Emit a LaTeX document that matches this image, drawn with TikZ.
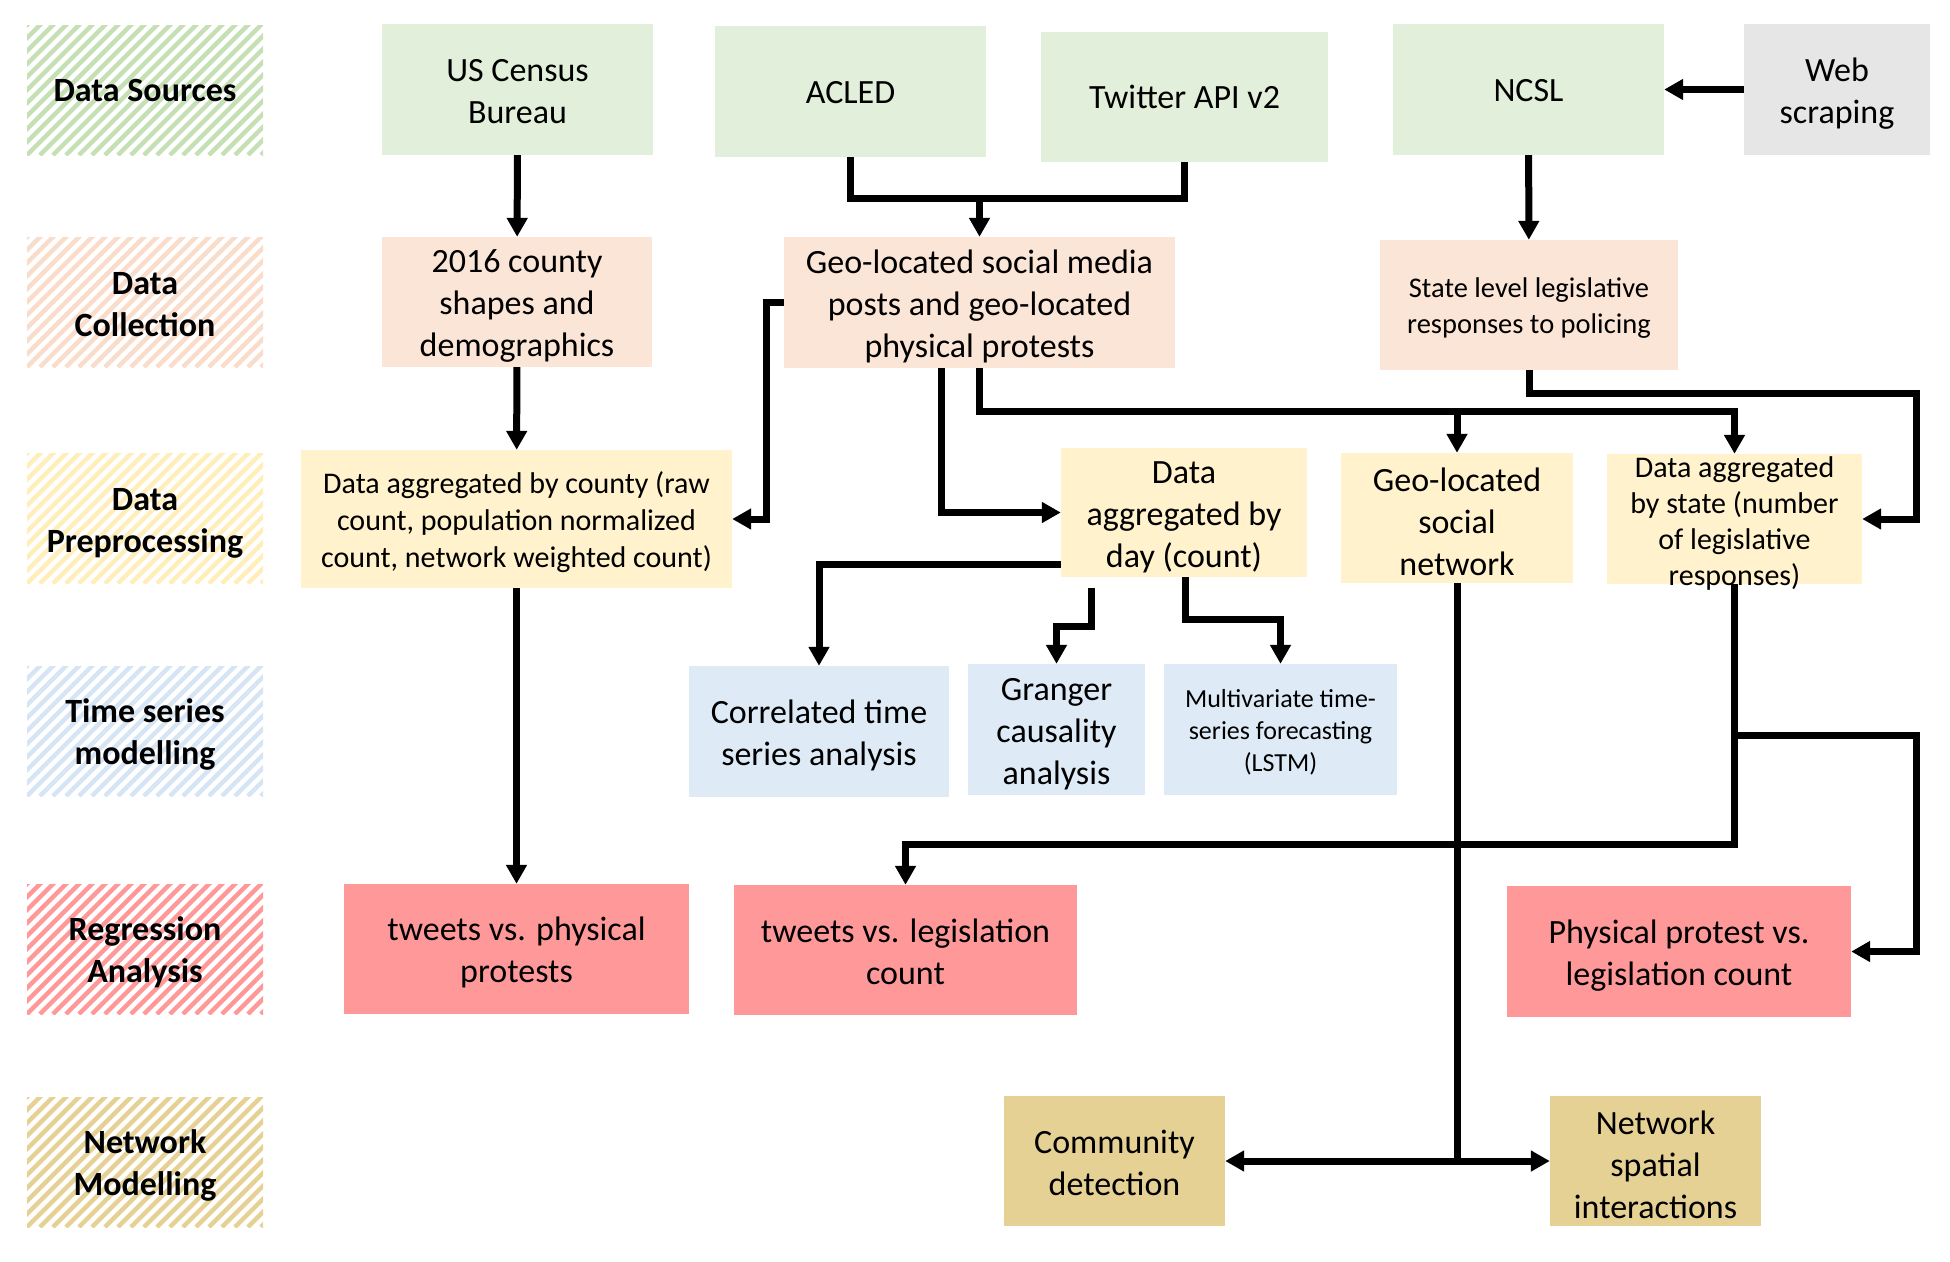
\documentclass[tikz,border=0pt]{standalone}
\usepackage{fontspec}
\setmainfont{Carlito}
\usetikzlibrary{arrows.meta,calc}
\definecolor{srcG}{HTML}{E2EFDA}
\definecolor{colP}{HTML}{FBE5D6}
\definecolor{preY}{HTML}{FFF2CC}
\definecolor{tsB}{HTML}{DEEBF7}
\definecolor{regR}{HTML}{FF9999}
\definecolor{netT}{HTML}{E6D194}
\definecolor{webG}{HTML}{E7E6E6}
\definecolor{stG}{HTML}{C5E0B4}
\definecolor{stP}{HTML}{F9DCCA}
\definecolor{stY}{HTML}{FFEDBA}
\definecolor{stB}{HTML}{D6E5F5}
\definecolor{stR}{HTML}{FF9999}
\definecolor{stT}{HTML}{E6D194}
\newcommand{\tstrut}{\rule{0pt}{0.91em}}
\newcommand{\mstrut}{\rule{0pt}{0.8em}}
\newcommand{\sstrut}{\rule{0pt}{0.7em}}
\newcommand{\stripefill}[2]{%
  \begin{scope}
    \clip (27,#1-65) rectangle (263,#1+65);
    \foreach \ii in {-12,...,20} {
      \draw[#2, line width=4.3pt] (27+\ii*13,#1+65) -- ++(150,-150);
    }
  \end{scope}}
\begin{document}
\begin{tikzpicture}[x=1pt,y=-1pt,
  box/.style={rectangle, inner sep=0pt, align=center, font=\fontsize{34}{42}\selectfont},
  lab/.style={rectangle, inner sep=0pt, minimum width=236pt, minimum height=130pt, align=center, font=\fontsize{34}{42}\selectfont\bfseries},
  arr/.style={line width=7pt, -{Triangle[width=20pt,length=19pt]}},
  conn/.style={line width=7pt}]
\useasboundingbox (0,0) rectangle (1950,1261);

% row labels
\stripefill{90}{stG}
\stripefill{302}{stP}
\stripefill{518.5}{stY}
\stripefill{731}{stB}
\stripefill{949}{stR}
\stripefill{1162}{stT}
\node[lab] (l1) at (145,90) {\sstrut Data Sources};
\node[lab] (l2) at (145,302) {\mstrut Data\\Collection};
\node[lab] (l3) at (145,518.5) {\tstrut Data\\Preprocessing};
\node[lab] (l4) at (145,731) {\tstrut Time series\\modelling};
\node[lab] (l5) at (145,949) {\tstrut Regression\\Analysis};
\node[lab] (l6) at (145,1162) {\tstrut Network\\Modelling};

% data sources
\node[box, fill=srcG, minimum width=271pt, minimum height=131pt] (census) at (517.5,89.5) {\mstrut US Census\\Bureau};
\node[box, fill=srcG, minimum width=271pt, minimum height=131pt] (acled) at (850.5,91.5) {\sstrut ACLED};
\node[box, fill=srcG, minimum width=287pt, minimum height=130pt] (twitter) at (1184.5,97) {\sstrut Twitter API v2};
\node[box, fill=srcG, minimum width=271pt, minimum height=131pt] (ncsl) at (1528.5,89.5) {\sstrut NCSL};
\node[box, fill=webG, minimum width=186pt, minimum height=131pt] (web) at (1837,89.5) {\tstrut Web\\scraping};

% data collection
\node[box, fill=colP, minimum width=270pt, minimum height=130pt] (county2016) at (517,302) {\tstrut 2016 county\\shapes and\\demographics};
\node[box, fill=colP, minimum width=391pt, minimum height=131pt] (geo) at (979.5,302.5) {\tstrut Geo-located social media\\posts and geo-located\\physical protests};
\node[box, fill=colP, minimum width=298pt, minimum height=130pt, font=\fontsize{28.5}{35.5}\selectfont] (state) at (1529,305) {\tstrut State level legislative\\responses to policing};

% preprocessing
\node[box, fill=preY, minimum width=431pt, minimum height=138pt, font=\fontsize{30}{37}\selectfont] (countyagg) at (516.5,519) {\tstrut Data aggregated by county (raw\\count, population normalized\\count, network weighted count)};
\node[box, fill=preY, minimum width=246pt, minimum height=129pt] (dayagg) at (1184,512.5) {\tstrut Data\\aggregated by\\day (count)};
\node[box, fill=preY, minimum width=232pt, minimum height=130pt] (geonet) at (1457,518) {\tstrut Geo-located\\social\\network};
\node[box, fill=preY, minimum width=255pt, minimum height=130pt] (stateagg) at (1734.5,519) {};
\node[box, font=\fontsize{30}{36}\selectfont] (stateaggtxt) at (1734.5,523) {Data aggregated\\by state (number\\of legislative\\responses)};

% time series
\node[box, fill=tsB, minimum width=260pt, minimum height=131pt] (corr) at (819,731.5) {\tstrut Correlated time\\series analysis};
\node[box, fill=tsB, minimum width=177pt, minimum height=131pt] (granger) at (1056.5,729.5) {\tstrut Granger\\causality\\analysis};
\node[box, fill=tsB, minimum width=233pt, minimum height=131pt, font=\fontsize{26}{31.7}\selectfont] (multi) at (1280.5,729.5) {\tstrut Multivariate time-\\series forecasting\\(LSTM)};

% regression
\node[box, fill=regR, minimum width=345pt, minimum height=130pt] (tphys) at (516.5,949) {\tstrut tweets vs. physical\\protests};
\node[box, fill=regR, minimum width=343pt, minimum height=130pt] (tleg) at (905.5,950) {\mstrut tweets vs. legislation\\count};
\node[box, fill=regR, minimum width=344pt, minimum height=131pt] (pleg) at (1679,951.5) {\tstrut Physical protest vs.\\legislation count};

% network
\node[box, fill=netT, minimum width=221pt, minimum height=130pt] (comm) at (1114.5,1161) {\mstrut Community\\detection};
\node[box, fill=netT, minimum width=211pt, minimum height=130pt] (netsp) at (1655.5,1161) {\tstrut Network\\spatial\\interactions};

% connectors
\coordinate (j1) at (979.5,198);
\coordinate (h1) at (1734.5,411);
\coordinate (r1) at (1916,393);
\coordinate (r2) at (1916,735);
\coordinate (j3) at (1457,1161);

\draw[arr] (census) -- (county2016);
\draw[conn] (acled.south) |- (j1) -| (twitter.south);
\draw[arr] (j1) -- (geo.north);
\draw[arr] (web.west) -- (ncsl.east);
\draw[arr] (ncsl) -- (state);
\draw[arr] (county2016) -- (countyagg);
\draw[arr] (geo.west) -- ++(-17,0) |- (countyagg.east);
\draw[arr] ($(geo.south)+(-38.5,0)$) |- (dayagg.west);
\draw[arr] (geo.south) |- (h1) -- (stateagg.north);
\draw[arr] (geonet.north |- h1) -- (geonet.north);
\draw[arr] (state.south) |- (r1) |- (stateagg.east);
\draw[arr] (countyagg) -- (tphys);
\draw[arr] ($(dayagg.west)+(0,51.5)$) -| (corr.north);
\draw[arr] ($(dayagg.south)+(-93,11)$) |- ($(granger.north)+(0,-37)$) -- (granger.north);
\draw[arr] ($(dayagg.south)+(1,0)$) |- ($(multi.north)+(0,-44)$) -- (multi.north);
\draw[arr] (stateagg.south) |- ($(tleg.north)+(0,-40)$) -- (tleg.north);
\draw[arr] (stateagg.south |- r2) -- (r2) |- (pleg.east);
\draw[conn] (geonet.south) -- (j3);
\draw[arr] (j3) -- (comm.east);
\draw[arr] (j3) -- (netsp.west);
\end{tikzpicture}
\end{document}
